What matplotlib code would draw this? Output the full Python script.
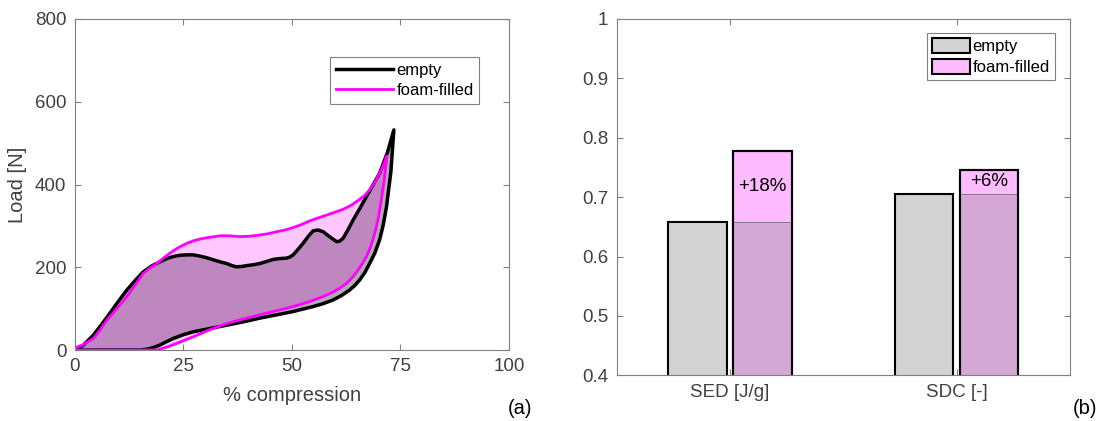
import numpy as np
import matplotlib.pyplot as plt
from matplotlib.patches import Patch
from matplotlib.lines import Line2D

plt.rcParams['font.family'] = ['Liberation Sans', 'DejaVu Sans']
plt.rcParams['font.size'] = 13.5

# (a) load-compression loops
empty_load_x = [0, 2, 4.3, 6.2, 8.1, 10, 12, 14, 15.8, 17.7, 19.6, 21.2, 22.7, 24.3, 25.8,
                27.3, 28.8, 30.4, 31.9, 33.5, 35, 36.2, 37.3, 38.5, 39.6, 41.1, 42.6,
                44.2, 45.7, 47.3, 48.8, 49.6, 50.3, 51.4, 52.6, 53.8, 54.9, 56, 57.2,
                58.8, 60.3, 61, 61.8, 62.9, 64.1, 65.7, 67.2, 68.7, 70.2, 72, 73.5]
empty_load_y = [0, 12, 36, 62, 89, 117, 145, 169, 189, 203, 213, 221, 226, 229, 230,
                230, 227, 223, 218, 213, 209, 204, 201, 202, 204, 206, 209,
                214, 219, 221, 222, 225, 230, 243, 258, 275, 288, 290, 286,
                273, 262, 263, 270, 290, 314, 343, 371, 399, 427, 477, 532]
empty_unload_x = [73.5, 72.8, 71.8, 71, 70.2, 69.1, 67.9, 66.8, 65.6, 64.5, 63.3, 61.5,
                  59.5, 57.2, 54.9, 52.6, 50.3, 46.5, 42.6, 38.8, 35, 31.1, 27.3, 25,
                  22.7, 21.1, 19.6, 18.1, 16.6, 15, 0]
empty_unload_y = [532, 430, 346, 300, 266, 234, 209, 187, 169, 156, 145, 132,
                  121, 112, 105, 99, 93, 85, 77, 68, 60, 52, 44, 37,
                  28, 20, 12, 6, 2, 0, 0]

foam_load_x = [0, 2, 4.3, 5.8, 7.4, 9.7, 12, 14, 15.8, 17.3, 18.9, 20.4, 21.9, 23.8,
               25.8, 27.7, 29.6, 31.5, 33.4, 35.7, 38, 40.3, 42.6, 44.5, 46.5, 48.4,
               50.3, 52.2, 54.1, 56, 58, 59.9, 61.8, 63.7, 65.6, 66.8, 67.9, 69.1,
               70.2, 71.1, 71.9]
foam_load_y = [5, 13, 28, 48, 72, 100, 129, 158, 185, 198, 209, 222, 234, 247,
               258, 265, 270, 273, 276, 276, 274, 275, 278, 281, 286, 290,
               296, 303, 312, 319, 326, 333, 340, 350, 364, 374, 387, 405,
               427, 447, 469]
foam_unload_x = [71.9, 71.3, 70.6, 69.9, 69.1, 68.2, 67.2, 65.7, 64.1, 62.6, 61, 59.1,
                 57.2, 53.8, 50.3, 46.5, 42.6, 38.8, 35, 31.1, 27.3, 25.4, 23.5,
                 21.5, 19.6, 18.9, 0]
foam_unload_y = [469, 413, 363, 318, 282, 251, 226, 200, 177, 161, 149, 138,
                 129, 116, 105, 95, 85, 75, 64, 49, 32, 24, 16,
                 8, 2, 0, 0]

# (b) bar values
categories = ['SED [J/g]', 'SDC [-]']
empty_vals = [0.658, 0.706]
foam_vals = [0.777, 0.746]
gain_labels = ['+18%', '+6%']
gain_y = [0.718, 0.726]

fig = plt.figure(figsize=(11.04, 4.21), dpi=100)
ax1 = fig.add_axes([0.0677, 0.1686, 0.3933, 0.7863])
ax2 = fig.add_axes([0.5586, 0.1086, 0.4106, 0.8463])

gray_txt = '#404040'
for ax in (ax1, ax2):
    for s in ax.spines.values():
        s.set_color('#808080')
        s.set_linewidth(0.8)
    ax.tick_params(direction='in', top=True, right=True, colors='#808080',
                   labelcolor=gray_txt, length=4, labelsize=13.5, pad=6)

# loops
ex = empty_load_x + empty_unload_x
ey = empty_load_y + empty_unload_y
fx = foam_load_x + foam_unload_x
fy = foam_load_y + foam_unload_y
ax1.fill(ex, ey, color='#808080', alpha=0.64, lw=0)
ax1.fill(fx, fy, color='#ff00ff', alpha=0.22, lw=0)
ax1.plot(ex, ey, color='black', lw=2.5, solid_joinstyle='round')
ax1.plot(fx, fy, color='#ff00ff', lw=2, solid_joinstyle='round')
ax1.set_xlim(0, 100)
ax1.set_ylim(0, 800)
ax1.set_xticks([0, 25, 50, 75, 100])
ax1.set_yticks([0, 200, 400, 600, 800])
ax1.set_xlabel('% compression', color=gray_txt, fontsize=14.5, labelpad=8)
ax1.set_ylabel('Load [N]', color=gray_txt, fontsize=14.5, labelpad=6)
h1 = [Line2D([], [], color='black', lw=2.5), Line2D([], [], color='#ff00ff', lw=2)]
leg1 = ax1.legend(h1, ['empty', 'foam-filled'], loc='upper right',
                  bbox_to_anchor=(0.951, 0.91), fancybox=False, framealpha=1,
                  edgecolor='#808080', handlelength=3.4, handletextpad=0.2,
                  borderpad=0.35, labelspacing=0.3, fontsize=12)
leg1.get_frame().set_linewidth(0.8)

# bars
pos = np.arange(1, len(categories) + 1)
w = 0.257
off = 0.143
ax2.bar(pos - off, empty_vals, w, color='#d3d3d3', edgecolor='black', lw=1.5)
ax2.bar(pos + off, foam_vals, w, color='#ffbbff', edgecolor='black', lw=1.5)
ax2.bar(pos + off, empty_vals, w, color='#d4a8d4', edgecolor='#707070', lw=0.6)
ax2.bar(pos + off, foam_vals, w, color='none', edgecolor='black', lw=1.5)
for p, t, yv in zip(pos, gain_labels, gain_y):
    ax2.text(p + off, yv, t, ha='center', va='center', fontsize=13.5, color='black')
ax2.set_xlim(0.5, 2.5)
ax2.set_ylim(0.4, 1.0)
ax2.set_xticks(pos)
ax2.set_xticklabels(categories)
ax2.set_yticks([0.4, 0.5, 0.6, 0.7, 0.8, 0.9, 1.0])
ax2.set_yticklabels(['0.4', '0.5', '0.6', '0.7', '0.8', '0.9', '1'])
h2 = [Patch(facecolor='#d3d3d3', edgecolor='black', lw=1.5),
      Patch(facecolor='#ffbbff', edgecolor='black', lw=1.5)]
leg2 = ax2.legend(h2, ['empty', 'foam-filled'], loc='upper right',
                  bbox_to_anchor=(0.985, 0.985), fancybox=False, framealpha=1,
                  edgecolor='#808080', handlelength=2.3, handleheight=1.0,
                  handletextpad=0.15, borderpad=0.3, labelspacing=0.3, fontsize=12)
leg2.get_frame().set_linewidth(0.8)

fig.text(520 / 1104, 1 - 408 / 421, '(a)', ha='center', va='center', fontsize=14.5)
fig.text(1085 / 1104, 1 - 408 / 421, '(b)', ha='center', va='center', fontsize=14.5)

fig.savefig('out.png', dpi=100)
